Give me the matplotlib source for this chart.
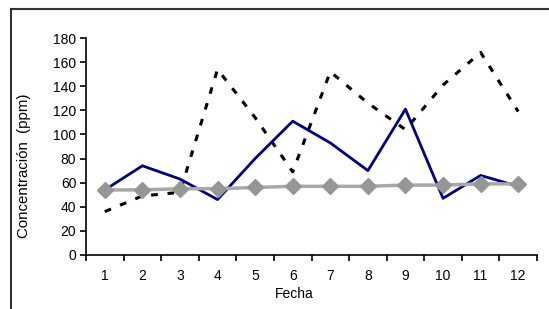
import matplotlib
matplotlib.use("Agg")
import matplotlib.pyplot as plt
from matplotlib.lines import Line2D
from matplotlib.ticker import FixedLocator, NullFormatter

plt.rcParams['font.family'] = ['Liberation Sans', 'DejaVu Sans']

fechas = [1, 2, 3, 4, 5, 6, 7, 8, 9, 10, 11, 12]
serie_azul = [54, 74, 63, 46, 80, 111, 93, 70, 121, 47, 66, 57]
serie_discontinua = [36, 49, 52, 154, 114, 69, 152, 126, 104, 141, 168, 119]
serie_gris = [54, 54, 55, 55, 56, 57, 57, 57, 58, 58, 59, 59]
yticks = [0, 20, 40, 60, 80, 100, 120, 140, 160, 180]

W, H = 549, 309
fig = plt.figure(figsize=(W / 100, H / 100), dpi=100)
ax = fig.add_axes([86 / W, 1 - 255 / H, (537 - 86) / W, (255 - 38) / H])

x = list(range(len(fechas)))
ax.plot(x, serie_discontinua, color='black', lw=2.2, dashes=(2.2, 3.2), zorder=2)
ax.plot(x, serie_azul, color='#000080', lw=2.0, zorder=3)
ax.plot(x, serie_gris, color='#a8a8a8', lw=2.5, marker='D', markersize=8.5,
        markerfacecolor='#969696', markeredgecolor='#969696', zorder=4)

ax.set_xlim(-0.5, len(fechas) - 0.5)
ax.set_ylim(0, 180)
ax.set_yticks(yticks)
ax.set_xticks(x)
ax.set_xticklabels([str(f) for f in fechas])
ax.xaxis.set_minor_locator(FixedLocator([i - 0.5 for i in range(len(fechas) + 1)]))
ax.xaxis.set_minor_formatter(NullFormatter())
ax.tick_params(axis='x', which='major', length=0, pad=10, labelsize=10)
ax.tick_params(axis='x', which='minor', length=4, width=1.2, direction='out')
ax.tick_params(axis='y', length=4, width=1.2, direction='out', labelsize=10, pad=3)
for s in ['top', 'right']:
    ax.spines[s].set_visible(False)
for s in ['left', 'bottom']:
    ax.spines[s].set_linewidth(1.2)

fig.text(294 / W, 1 - 294 / H, 'Fecha', ha='center', va='center', fontsize=10)
fig.text(24 / W, 1 - 166 / H, 'Concentración  (ppm)', ha='center', va='center',
         rotation=90, fontsize=10.8)

top = 1 - 8.5 / H
left = 10.5 / W
fig.add_artist(Line2D([left, 1.01], [top, top], transform=fig.transFigure,
                      color='#333333', lw=1.5))
fig.add_artist(Line2D([left, left], [-0.01, top], transform=fig.transFigure,
                      color='#333333', lw=1.5))

fig.savefig('out.png', dpi=100)
